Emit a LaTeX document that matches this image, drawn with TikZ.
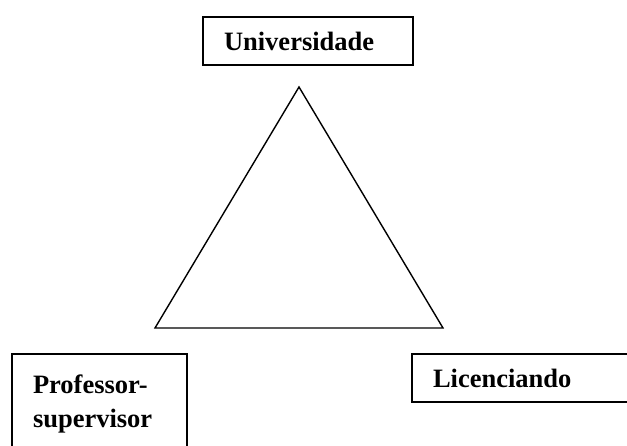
\documentclass[tikz,border=0pt]{standalone}
\usepackage{fontspec}
\setmainfont{Liberation Serif}
\begin{document}
\begin{tikzpicture}[x=1pt,y=1pt,
    rotulo/.style={draw,line width=2pt,anchor=north west,align=left,
      font=\bfseries\fontsize{26.5}{34}\selectfont,inner xsep=21pt,inner ysep=0pt}]
    \clip (0,0) rectangle (627,445);
    \node[rotulo,minimum height=48pt,text width=168pt] (univ) at (202,429) {Universidade};
    \draw[line width=1.4pt,line join=miter] (299,358)--(155,117)--(443,117)--cycle;
    \node[rotulo,minimum height=100pt,text width=133pt] (prof) at (11,92) {Professor-\\supervisor};
    \node[rotulo,minimum height=48pt,text width=200pt] (lic) at (411,92) {Licenciando};
  \end{tikzpicture}
\end{document}
